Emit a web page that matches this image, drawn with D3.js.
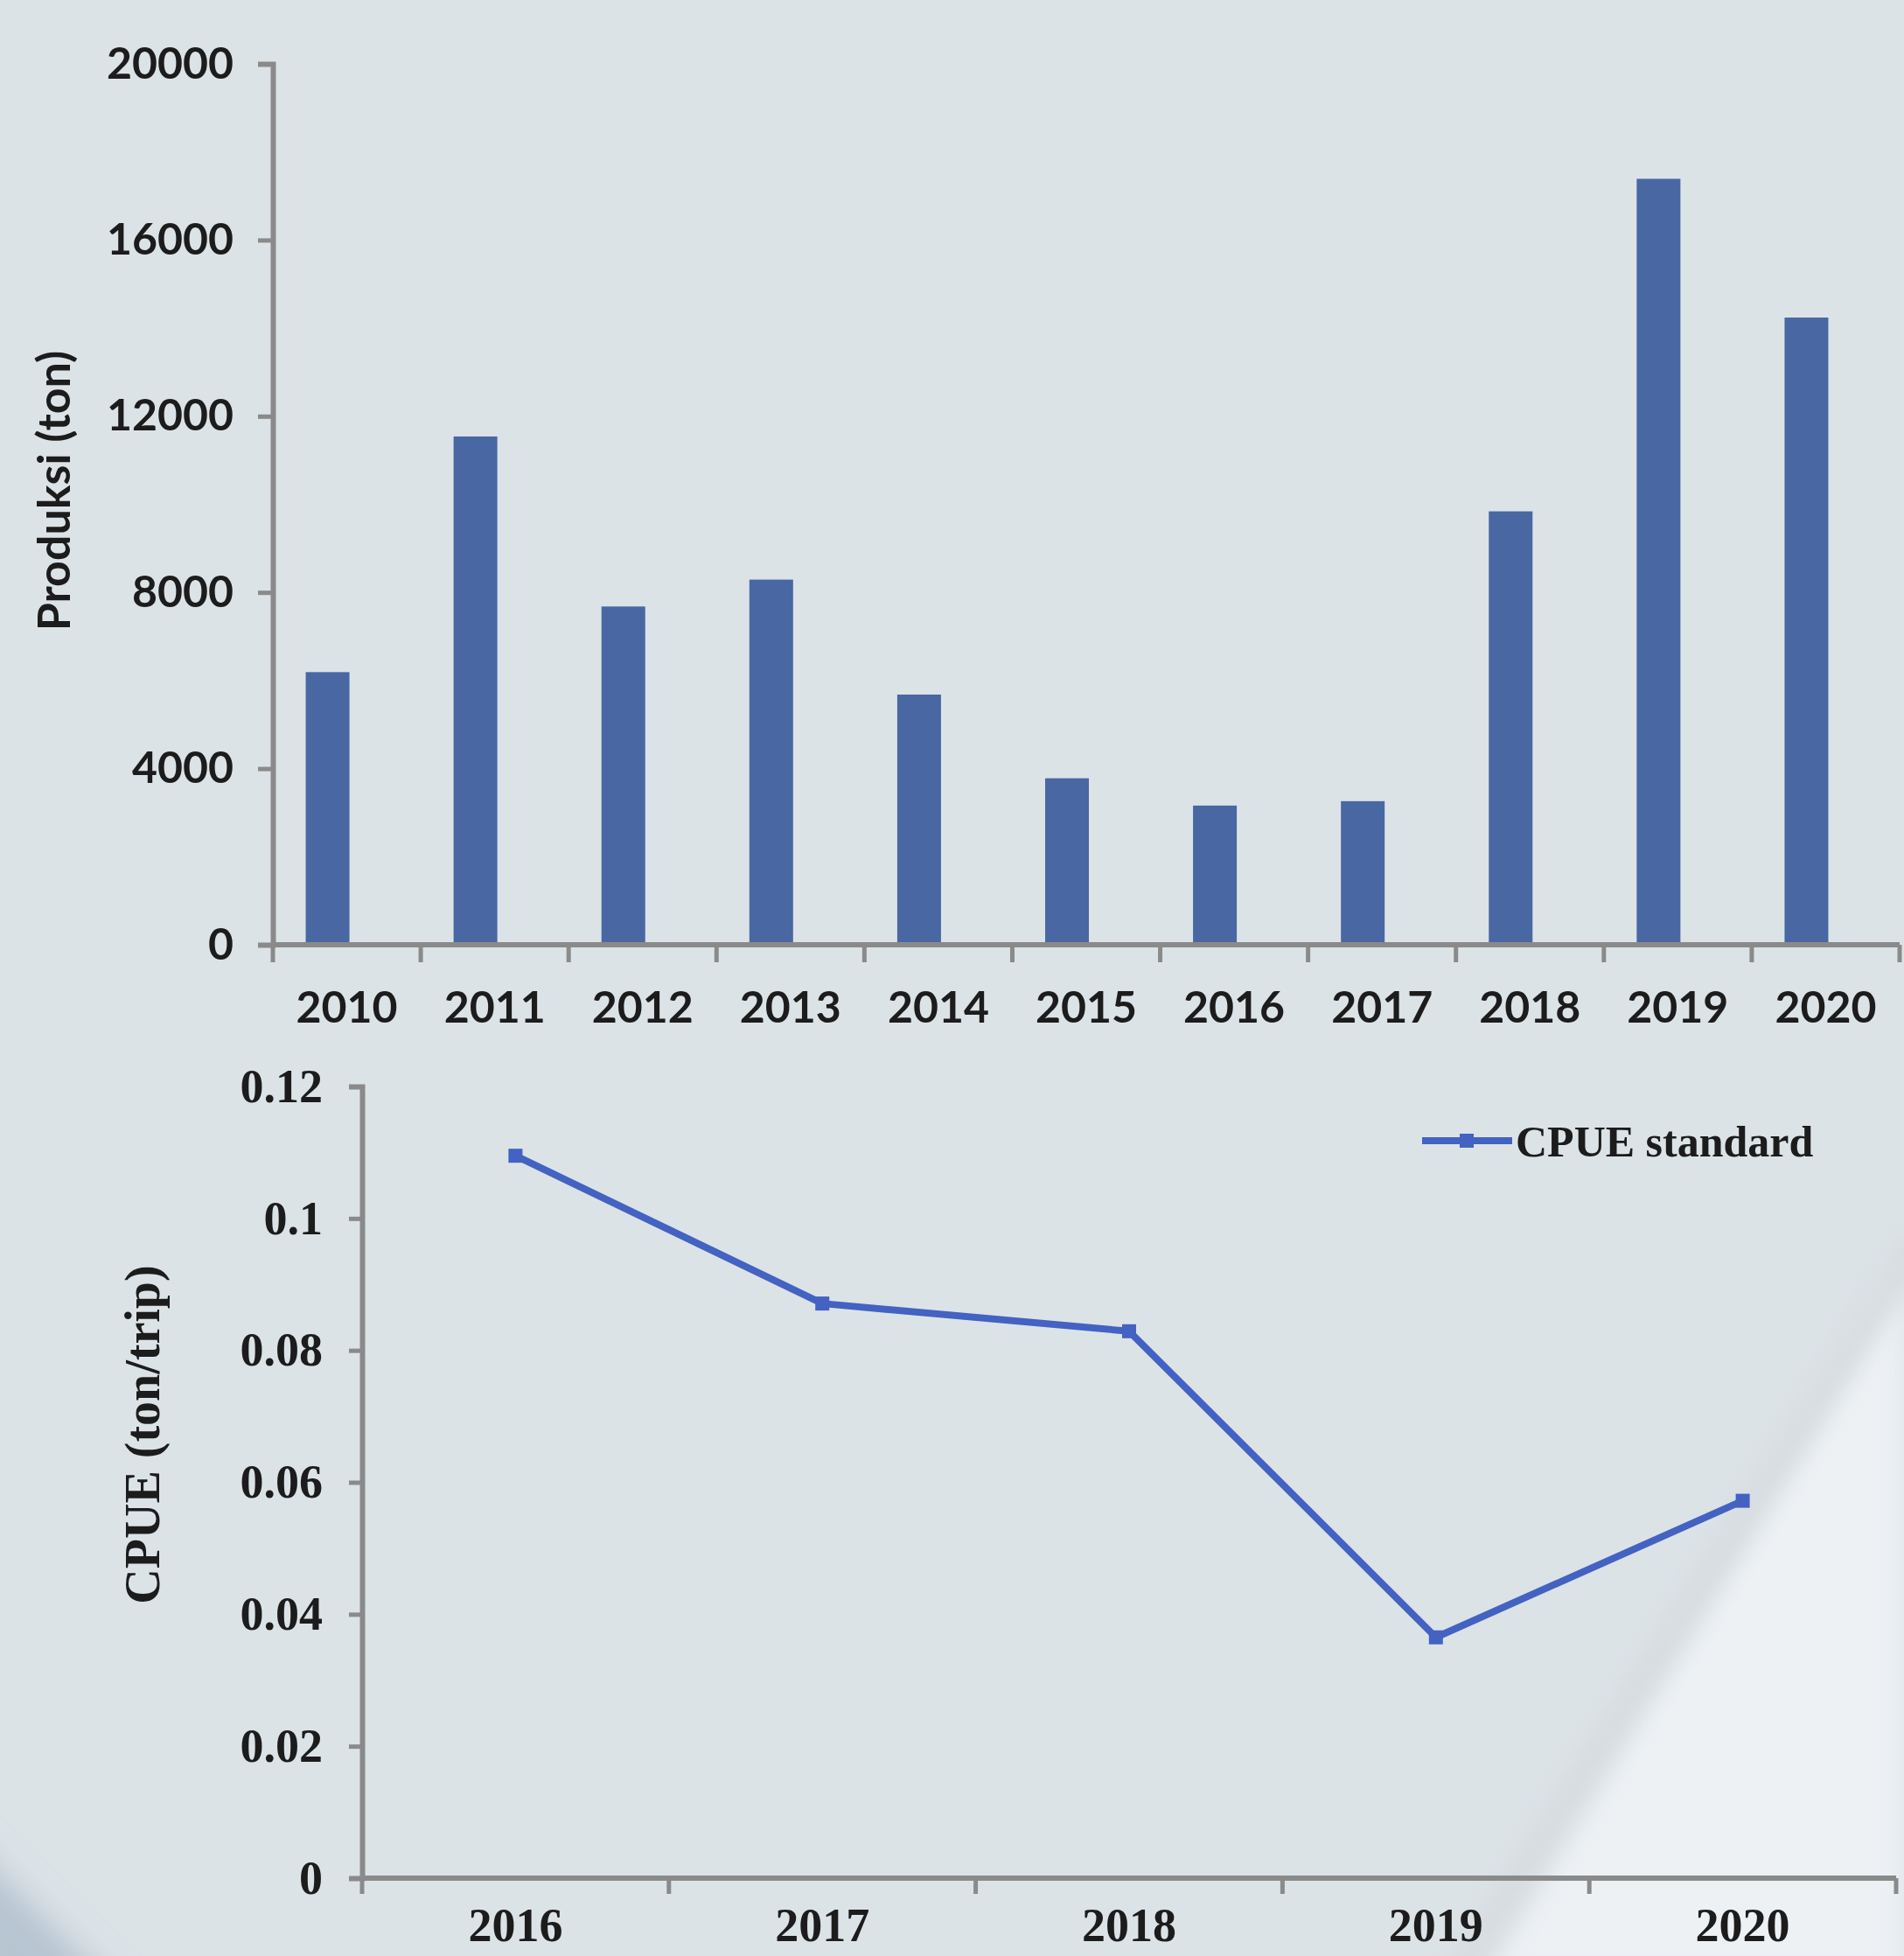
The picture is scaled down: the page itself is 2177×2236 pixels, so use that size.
<!DOCTYPE html>
<html lang="en">
    <head>
        <meta charset="utf-8">
        <title>Produksi dan CPUE</title>
        <script type="text/javascript" src="https://cdn.jsdelivr.net/npm/d3@7/dist/d3.min.js"></script>
        <style type="text/css">
body {
    margin: 0;
    background-color: #dce3e7;
}
svg {
    display: block;
}
        </style>
    </head>
    <body>
        <script type="text/javascript">
// data
var prodYears = ["2010","2011","2012","2013","2014","2015","2016","2017","2018","2019","2020"];
var prodValues = [6190, 11540, 7680, 8290, 5680, 3780, 3160, 3260, 9840, 17390, 14240];
var prodTicks = [0, 4000, 8000, 12000, 16000, 20000];

var cpueYears = ["2016","2017","2018","2019","2020"];
var cpueValues = [0.1095, 0.0871, 0.0829, 0.0365, 0.0572];
var cpueTicks = [0, 0.02, 0.04, 0.06, 0.08, 0.1, 0.12];
var cpueTickLabels = ["0","0.02","0.04","0.06","0.08","0.1","0.12"];
var legendLabel = "CPUE standard";

var width=2177;
var height=2236;

var axisColor="#8a8a8a";
var barColor="#4867a3";
var lineColor="#4362c2";
var textColor="#1c1c1c";

var svg = d3.select("body").append("svg")
    .attr("width",width).attr("height",height);

var defs=svg.append("defs");
defs.append("filter").attr("id","soft").attr("x","-50%").attr("y","-50%").attr("width","200%").attr("height","200%")
    .append("feGaussianBlur").attr("stdDeviation",18);
defs.append("filter").attr("id","soft2").attr("x","-50%").attr("y","-50%").attr("width","200%").attr("height","200%")
    .append("feGaussianBlur").attr("stdDeviation",14);

// photographed background: light wedge bottom right, dark corner bottom left
svg.append("rect").attr("width",width).attr("height",height).attr("fill","#dce3e7");
svg.append("polygon").attr("points","2177,1450 2177,2260 1700,2260").attr("fill","#edf1f4").attr("filter","url(#soft2)");
svg.append("line").attr("x1",2200).attr("y1",1410).attr("x2",1665).attr("y2",2260)
    .attr("stroke","#d5dbdf").attr("stroke-width",30).attr("filter","url(#soft2)");
svg.append("polygon").attr("points","-40,2100 -40,2300 160,2300").attr("fill","#b7c5d1").attr("filter","url(#soft)");

// ---------- top: Produksi bar chart ----------
var gTop = svg.append("g");
var x1 = d3.scaleBand().domain(prodYears).range([312, 2172]).padding(0);
var y1 = d3.scaleLinear().domain([0, 20000]).range([1080, 73]);
var barW = 50;
var barShift = -22;   // bars sit left of the category centre

gTop.selectAll("rect.bar").data(prodValues).enter().append("rect")
    .attr("class","bar")
    .attr("x",function(d,i){ return x1(prodYears[i]) + x1.bandwidth()/2 + barShift - barW/2; })
    .attr("y",function(d){ return y1(d); })
    .attr("width",barW)
    .attr("height",function(d){ return y1(0) - y1(d); })
    .attr("fill",barColor);

var yAx1 = gTop.append("g").attr("transform","translate(312,0)")
    .call(d3.axisLeft(y1).tickValues(prodTicks).tickSize(17).tickPadding(28).tickFormat(d3.format("d")));
var xAx1 = gTop.append("g").attr("transform","translate(0,1080)")
    .call(d3.axisBottom(x1).tickSize(0).tickPadding(53));
xAx1.select(".domain").remove();
gTop.append("line").attr("x1",312).attr("x2",2172).attr("y1",1080).attr("y2",1080)
    .attr("stroke",axisColor).attr("stroke-width",6);
gTop.selectAll("line.xt").data(prodYears.concat(["end"])).enter().append("line")
    .attr("class","xt")
    .attr("x1",function(d,i){ return i < prodYears.length ? x1(d) : x1.range()[1]; })
    .attr("x2",function(d,i){ return i < prodYears.length ? x1(d) : x1.range()[1]; })
    .attr("y1",1080).attr("y2",1100)
    .attr("stroke",axisColor).attr("stroke-width",5);

[yAx1, xAx1].forEach(function(a){
    a.selectAll(".domain").attr("stroke",axisColor).attr("stroke-width",6);
    a.selectAll(".tick line").attr("stroke",axisColor).attr("stroke-width",5);
    a.selectAll("text").attr("fill",textColor)
        .style("font-family","Lato, sans-serif").style("font-weight","700").style("font-size","50px");
});

gTop.append("text").attr("transform","translate(80,561) rotate(-90)")
    .attr("text-anchor","middle").attr("fill",textColor)
    .style("font-family","Lato, sans-serif").style("font-weight","700").style("font-size","52px")
    .text("Produksi (ton)");

// ---------- bottom: CPUE line chart ----------
var gBot = svg.append("g");
var x2 = d3.scaleBand().domain(cpueYears).range([414, 2168]).padding(0);
var y2 = d3.scaleLinear().domain([0, 0.12]).range([2147, 1242]);
var serif = "'Liberation Serif', 'Times New Roman', serif";

var yAx2 = gBot.append("g").attr("transform","translate(414,0)")
    .call(d3.axisLeft(y2).tickValues(cpueTicks).tickSize(15).tickPadding(30)
        .tickFormat(function(d,i){ return cpueTickLabels[i]; }));
var xAx2 = gBot.append("g").attr("transform","translate(0,2147)")
    .call(d3.axisBottom(x2).tickSize(0).tickPadding(34));
xAx2.select(".domain").remove();
gBot.append("line").attr("x1",414).attr("x2",2168).attr("y1",2147).attr("y2",2147)
    .attr("stroke",axisColor).attr("stroke-width",6);
gBot.selectAll("line.xt").data(cpueYears.concat(["end"])).enter().append("line")
    .attr("class","xt")
    .attr("x1",function(d,i){ return i < cpueYears.length ? x2(d) : x2.range()[1]; })
    .attr("x2",function(d,i){ return i < cpueYears.length ? x2(d) : x2.range()[1]; })
    .attr("y1",2147).attr("y2",2165)
    .attr("stroke",axisColor).attr("stroke-width",5);

[yAx2, xAx2].forEach(function(a){
    a.selectAll(".domain").attr("stroke",axisColor).attr("stroke-width",6);
    a.selectAll(".tick line").attr("stroke",axisColor).attr("stroke-width",5);
    a.selectAll("text").attr("fill",textColor)
        .style("font-family",serif).style("font-weight","700").style("font-size","54px");
});

var line = d3.line()
    .x(function(d,i){ return x2(cpueYears[i]) + x2.bandwidth()/2; })
    .y(function(d){ return y2(d); });
gBot.append("path").datum(cpueValues).attr("d",line)
    .attr("fill","none").attr("stroke",lineColor).attr("stroke-width",8).attr("stroke-linejoin","round");
gBot.selectAll("rect.mk").data(cpueValues).enter().append("rect")
    .attr("class","mk")
    .attr("x",function(d,i){ return x2(cpueYears[i]) + x2.bandwidth()/2 - 8; })
    .attr("y",function(d){ return y2(d) - 8; })
    .attr("width",16).attr("height",16).attr("fill",lineColor);

gBot.append("text").attr("transform","translate(182,1640) rotate(-90)")
    .attr("text-anchor","middle").attr("fill",textColor)
    .style("font-family",serif).style("font-weight","700").style("font-size","56px")
    .text("CPUE (ton/trip)");

// legend
var lg = gBot.append("g").attr("transform","translate(1626,1304)");
lg.append("line").attr("x1",0).attr("x2",103).attr("y1",0).attr("y2",0)
    .attr("stroke",lineColor).attr("stroke-width",8);
lg.append("rect").attr("x",43).attr("y",-8).attr("width",16).attr("height",16).attr("fill",lineColor);
lg.append("text").attr("x",107).attr("y",0).attr("dy","0.35em").attr("fill",textColor)
    .style("font-family",serif).style("font-weight","700").style("font-size","50px")
    .text(legendLabel);
        </script>
    </body>
</html>
